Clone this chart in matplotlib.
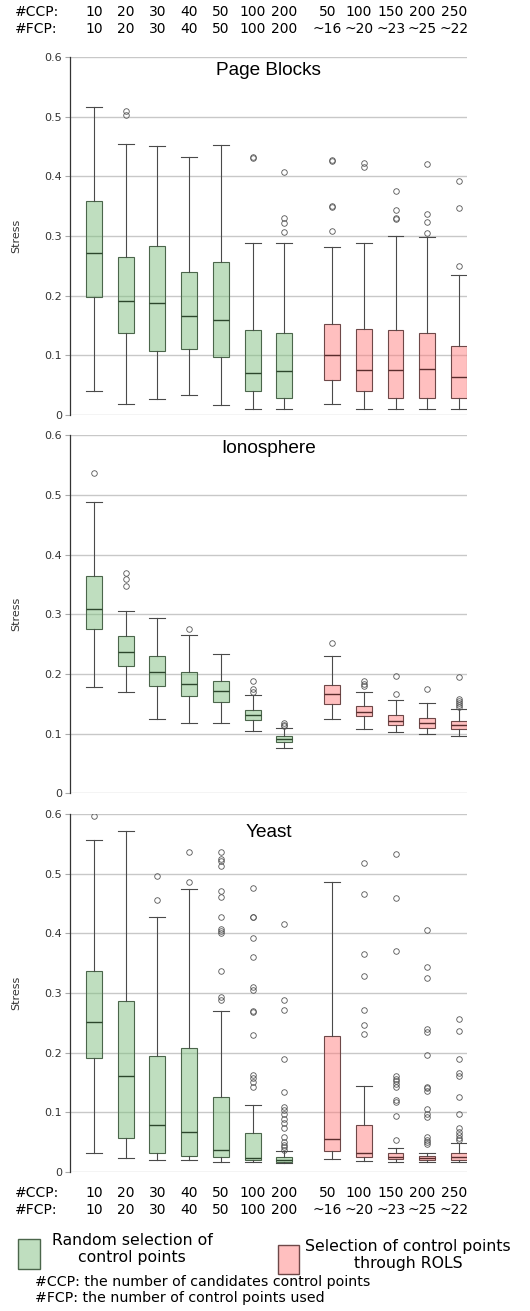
import matplotlib
matplotlib.use("Agg")
import matplotlib.pyplot as plt
from matplotlib.patches import Rectangle
import numpy as np

# x-axis labels (same for every panel)
CCP_GREEN = ["10", "20", "30", "40", "50", "100", "200"]
FCP_GREEN = ["10", "20", "30", "40", "50", "100", "200"]
CCP_RED = ["50", "100", "150", "200", "250"]
FCP_RED = ["~16", "~20", "~23", "~25", "~22"]

TITLES = ["Page Blocks", "Ionosphere", "Yeast"]

# box statistics: 7 random-selection boxes, then 5 ROLS boxes
PB_HI = [0.517, 0.454, 0.451, 0.432, 0.452, 0.288, 0.289, 0.282, 0.288, 0.300, 0.299, 0.235]
PB_Q3 = [0.359, 0.264, 0.283, 0.240, 0.257, 0.143, 0.137, 0.153, 0.144, 0.143, 0.137, 0.116]
PB_MED = [0.272, 0.191, 0.188, 0.166, 0.159, 0.071, 0.074, 0.100, 0.075, 0.076, 0.0765, 0.063]
PB_Q1 = [0.198, 0.137, 0.108, 0.110, 0.098, 0.041, 0.0285, 0.058, 0.040, 0.029, 0.029, 0.029]
PB_LO = [0.041, 0.019, 0.027, 0.034, 0.017, 0.0095, 0.0095, 0.018, 0.010, 0.0106, 0.0095, 0.0095]
PB_FLIERS = [[], [0.509, 0.502], [], [], [], [0.431, 0.433],
             [0.407, 0.330, 0.322, 0.307],
             [0.428, 0.425, 0.351, 0.349, 0.309], [0.423, 0.415],
             [0.375, 0.344, 0.331, 0.329], [0.420, 0.337, 0.323, 0.305],
             [0.393, 0.347, 0.250]]

IO_HI = [0.489, 0.306, 0.294, 0.265, 0.2335, 0.164, 0.109, 0.230, 0.169, 0.156, 0.151, 0.141]
IO_Q3 = [0.364, 0.263, 0.230, 0.204, 0.188, 0.140, 0.096, 0.182, 0.1465, 0.131, 0.127, 0.122]
IO_MED = [0.309, 0.237, 0.203, 0.183, 0.1715, 0.132, 0.0916, 0.167, 0.1365, 0.122, 0.1175, 0.114]
IO_Q1 = [0.276, 0.214, 0.179, 0.163, 0.1525, 0.123, 0.0866, 0.149, 0.130, 0.114, 0.1095, 0.1085]
IO_LO = [0.178, 0.169, 0.124, 0.1185, 0.1185, 0.104, 0.0765, 0.124, 0.107, 0.102, 0.0995, 0.096]
IO_FLIERS = [[0.536], [0.369, 0.360, 0.347], [], [0.276], [],
             [0.189, 0.1755, 0.1705], [0.118, 0.1145, 0.113],
             [0.2525], [0.188, 0.184, 0.180], [0.197, 0.167], [0.174],
             [0.1955, 0.158, 0.154, 0.151, 0.148, 0.145]]

YE_HI = [0.557, 0.5725, 0.427, 0.475, 0.270, 0.112, 0.035, 0.487, 0.1447, 0.040, 0.032, 0.0475]
YE_Q3 = [0.337, 0.287, 0.195, 0.208, 0.125, 0.0642, 0.024, 0.227, 0.0788, 0.032, 0.027, 0.0307]
YE_MED = [0.251, 0.161, 0.0777, 0.067, 0.037, 0.0229, 0.020, 0.055, 0.0318, 0.025, 0.0235, 0.025]
YE_Q1 = [0.191, 0.056, 0.031, 0.0257, 0.024, 0.020, 0.0168, 0.0346, 0.025, 0.0207, 0.0196, 0.0196]
YE_LO = [0.032, 0.023, 0.019, 0.019, 0.0168, 0.0156, 0.0145, 0.022, 0.0179, 0.0168, 0.0168, 0.0168]
YE_FLIERS = [[0.597], [], [0.497, 0.456], [0.536, 0.486],
             [0.537, 0.5255, 0.521, 0.513, 0.472, 0.462, 0.427, 0.407, 0.404,
              0.401, 0.337, 0.294, 0.289],
             [0.4757, 0.428, 0.427, 0.393, 0.361, 0.310, 0.305, 0.270, 0.268,
              0.229, 0.162, 0.157, 0.150, 0.143],
             [0.4158, 0.288, 0.272, 0.190, 0.133, 0.109, 0.103, 0.0966, 0.089,
              0.081, 0.074, 0.059, 0.050, 0.045, 0.041, 0.037],
             [],
             [0.519, 0.466, 0.365, 0.328, 0.272, 0.246, 0.231],
             [0.533, 0.460, 0.370, 0.160, 0.156, 0.152, 0.147, 0.142, 0.120,
              0.117, 0.094, 0.053],
             [0.406, 0.343, 0.326, 0.239, 0.235, 0.1955, 0.1425, 0.140, 0.135,
              0.105, 0.0966, 0.092, 0.0587, 0.053, 0.050, 0.046],
             [0.257, 0.2367, 0.190, 0.1665, 0.161, 0.1246, 0.097, 0.074, 0.067,
              0.061, 0.056, 0.0525]]

PANELS = [
    (PB_LO, PB_Q1, PB_MED, PB_Q3, PB_HI, PB_FLIERS),
    (IO_LO, IO_Q1, IO_MED, IO_Q3, IO_HI, IO_FLIERS),
    (YE_LO, YE_Q1, YE_MED, YE_Q3, YE_HI, YE_FLIERS),
]

GREEN_POS = np.arange(1, 8)
RED_POS = np.arange(8.5, 13.0, 1.0)

GREEN_FACE = (0.5, 0.75, 0.5, 0.5)
RED_FACE = (1.0, 0.5, 0.5, 0.5)
GREEN_EDGE = "#4b664b"
RED_EDGE = "#6e4848"

W, H = 530, 1311
fig = plt.figure(figsize=(W / 100, H / 100), dpi=100)

# axes rectangles in pixels: (top of 0.6, bottom at 0)
panel_px = [(57, 415), (435.3, 793.3), (814.3, 1171.7)]
title_base = [18, 17.4, 23]
left_px, right_px = 70, 467

axes = []
for i, (top, bot) in enumerate(panel_px):
    ax = fig.add_axes([left_px / W, 1 - bot / H, (right_px - left_px) / W, (bot - top) / H])
    axes.append(ax)
    lo, q1, med, q3, hi, fl = PANELS[i]
    stats = [dict(whislo=lo[k], q1=q1[k], med=med[k], q3=q3[k], whishi=hi[k],
                  fliers=fl[k]) for k in range(12)]

    for idx, pos, face, edge, medc in [
        (slice(0, 7), GREEN_POS, GREEN_FACE, GREEN_EDGE, "#2c462c"),
        (slice(7, 12), RED_POS, RED_FACE, RED_EDGE, "#5a2c2c"),
    ]:
        ax.bxp(stats[idx], positions=pos, widths=0.5, capwidths=0.5,
               patch_artist=True, manage_ticks=False,
               boxprops=dict(facecolor=face, edgecolor=edge, linewidth=0.8),
               medianprops=dict(color=medc, linewidth=1.0),
               whiskerprops=dict(color="#4a4a4a", linewidth=0.8),
               capprops=dict(color="#4a4a4a", linewidth=0.8),
               flierprops=dict(marker="o", markerfacecolor="none",
                               markeredgecolor="#555555", markersize=4,
                               markeredgewidth=0.6, linestyle="none"))

    ax.set_xlim(0.25, 12.75)
    ax.set_ylim(0, 0.6)
    ticks = np.round(np.arange(0, 0.61, 0.1), 1)
    ax.set_yticks(ticks)
    ax.set_yticklabels([f"{t:g}" for t in ticks])
    ax.set_xticks([])
    ax.grid(axis="y", color="#c8c8c8", linewidth=1.0)
    ax.set_axisbelow(True)
    for s in ["top", "right", "bottom"]:
        ax.spines[s].set_visible(False)
    ax.spines["left"].set_color("#333333")
    ax.spines["left"].set_linewidth(0.9)
    ax.tick_params(axis="y", length=3.5, color="#aaaaaa", labelsize=8,
                   labelcolor="#333333", pad=2)
    ax.text(-0.136, 0.5, "Stress", rotation=90, ha="center", va="center",
            fontsize=8, color="#333333", transform=ax.transAxes)
    ax.text(0.5, 1 - title_base[i] / (bot - top), TITLES[i], ha="center",
            va="baseline", fontsize=13.7, family="Liberation Sans",
            transform=ax.transAxes)


def header(ax, y_ccp, y_fcp):
    tr = ax.get_xaxis_transform()
    for x, a, b in zip(GREEN_POS, CCP_GREEN, FCP_GREEN):
        ax.text(x, y_ccp, a, ha="center", va="center", fontsize=10, transform=tr, clip_on=False)
        ax.text(x, y_fcp, b, ha="center", va="center", fontsize=10, transform=tr, clip_on=False)
    for x, a, b in zip(RED_POS, CCP_RED, FCP_RED):
        ax.text(x - 0.15, y_ccp, a, ha="center", va="center", fontsize=10, transform=tr, clip_on=False)
        ax.text(x - 0.15, y_fcp, b, ha="center", va="center", fontsize=10, transform=tr, clip_on=False)


# header rows above the first panel and below the last one
header(axes[0], (415 - 12) / 358, (415 - 29) / 358)
fig.text(15 / W, 1 - 12 / H, "#CCP:", ha="left", va="center", fontsize=10)
fig.text(15 / W, 1 - 29 / H, "#FCP:", ha="left", va="center", fontsize=10)
header(axes[2], (1171.7 - 1193) / 357.4, (1171.7 - 1210) / 357.4)
fig.text(15 / W, 1 - 1193 / H, "#CCP:", ha="left", va="center", fontsize=10)
fig.text(15 / W, 1 - 1210 / H, "#FCP:", ha="left", va="center", fontsize=10)

# legend
fig.patches.append(Rectangle((18 / W, 1 - 1269 / H), 22 / W, 30 / H,
                             facecolor=GREEN_FACE, edgecolor=GREEN_EDGE,
                             linewidth=1.0, transform=fig.transFigure))
fig.patches.append(Rectangle((278 / W, 1 - 1274 / H), 21 / W, 29 / H,
                             facecolor=RED_FACE, edgecolor=RED_EDGE,
                             linewidth=1.0, transform=fig.transFigure))
fig.text(132 / W, 1 - 1249 / H, "Random selection of\ncontrol points",
         ha="center", va="center", multialignment="center", fontsize=11.3,
         linespacing=1.15)
fig.text(408 / W, 1 - 1255 / H, "Selection of control points\nthrough ROLS",
         ha="center", va="center", multialignment="center", fontsize=11.3,
         linespacing=1.2)
fig.text(35 / W, 1 - 1282 / H, "#CCP: the number of candidates control points",
         ha="left", va="center", fontsize=10.2)
fig.text(35 / W, 1 - 1298 / H, "#FCP: the number of control points used",
         ha="left", va="center", fontsize=10.2)

fig.savefig("out.png", dpi=100)
